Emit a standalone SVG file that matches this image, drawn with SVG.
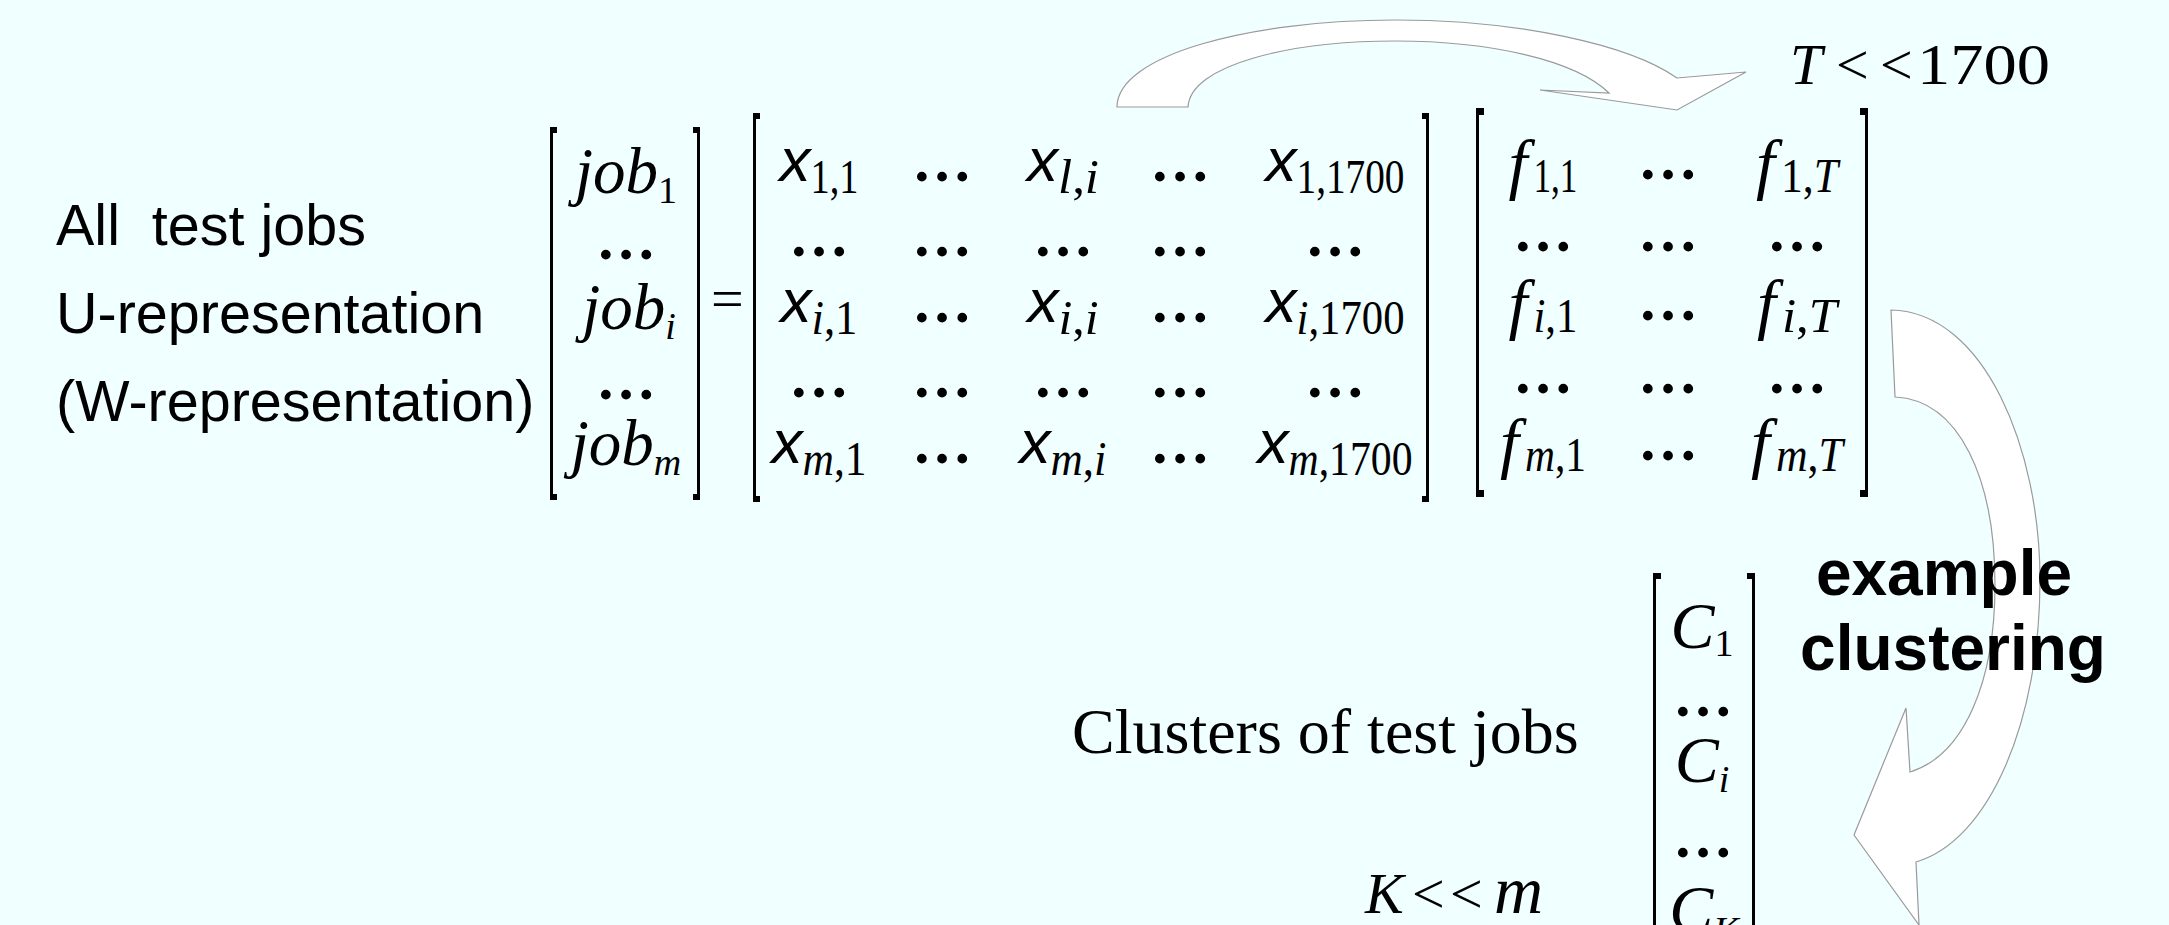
<svg xmlns="http://www.w3.org/2000/svg" width="2169" height="925" viewBox="0 0 2169 925">
<style>
.sans{font-family:"Liberation Sans",Arial,sans-serif}
.serif{font-family:"Liberation Serif","Times New Roman",serif}
.lab{font-family:"Liberation Sans",Arial,sans-serif;font-size:57.5px;fill:#000}
.m{font-family:"Liberation Serif","Times New Roman",serif;font-size:58px;fill:#000}
.it{font-style:italic}
.sub{font-size:38px;font-weight:normal}
.sb{font-size:48px;font-weight:normal}
.xv{font-family:"Liberation Sans",Arial,sans-serif;font-style:italic;font-size:62px}
.fv{font-style:italic;font-size:68px}
.d{font-weight:bold;font-size:60px}
.br{fill:#000}
.arrow{fill:#fff;stroke:#9a9a9a;stroke-width:1.2;stroke-linejoin:miter}
.bold{font-family:"Liberation Sans",Arial,sans-serif;font-weight:bold;font-size:64px;fill:#000}
</style>
<rect x="0" y="0" width="2169" height="925" fill="#f0ffff"/>

<g id="connectors">
  <path class="arrow" d="M1117,107 C1117,55 1250,20 1395,20 C1520,20 1630,45 1677,78 L1746,72 L1677,110 L1540,90 L1609,93 C1575,60 1490,41 1395,41 C1290,41 1190,65 1188,107 Z"/>
  <path class="arrow" d="M1891,310 C1985,312 2040,450 2040,580 C2040,720 1990,840 1916,862 L1919,925 L1854,835 L1906,708 L1910,772 C1965,755 1995,680 1995,585 C1995,480 1960,400 1895,397 Z"/>
</g>

<g id="labels">
  <text class="lab" x="56" y="245" xml:space="preserve">All  test jobs</text>
  <text class="lab" x="56" y="333">U-representation</text>
  <text class="lab" x="56" y="421">(W-representation)</text>
</g>

<g id="matrix-job">
  <rect class="br" x="550" y="127" width="3" height="373"/>
  <rect class="br" x="550" y="127" width="7" height="6"/>
  <rect class="br" x="550" y="494" width="7" height="6"/>
  <rect class="br" x="697" y="127" width="3" height="373"/>
  <rect class="br" x="693" y="127" width="7" height="6"/>
  <rect class="br" x="693" y="494" width="7" height="6"/>
  <g class="m" text-anchor="middle">
    <text x="626" y="193" font-size="65"><tspan class="it">job</tspan><tspan class="sub" dy="10">1</tspan></text>
    <text class="d" x="626" y="259">…</text>
    <text x="629" y="329" font-size="65"><tspan class="it">job</tspan><tspan class="sub it" dy="10">i</tspan></text>
    <text class="d" x="626" y="399">…</text>
    <text x="626" y="465" font-size="65"><tspan class="it">job</tspan><tspan class="sub it" dy="10">m</tspan></text>
  </g>
  <text class="m" x="711" y="318">=</text>
</g>

<g id="matrix-x">
  <rect class="br" x="753" y="113" width="3" height="389"/>
  <rect class="br" x="753" y="113" width="7" height="6"/>
  <rect class="br" x="753" y="496" width="7" height="6"/>
  <rect class="br" x="1426" y="113" width="3" height="389"/>
  <rect class="br" x="1422" y="113" width="7" height="6"/>
  <rect class="br" x="1422" y="496" width="7" height="6"/>
  <g class="m" text-anchor="middle">
    <text x="819" y="181"><tspan class="xv">x</tspan><tspan class="sb" dy="12" textLength="48" lengthAdjust="spacingAndGlyphs">1,1</tspan></text>
    <text class="d" x="942" y="181">…</text>
    <text x="1063" y="181"><tspan class="xv">x</tspan><tspan class="sb" dy="12" textLength="41" lengthAdjust="spacingAndGlyphs"><tspan class="it">l</tspan>,<tspan class="it">i</tspan></tspan></text>
    <text class="d" x="1180" y="181">…</text>
    <text x="1335" y="181"><tspan class="xv">x</tspan><tspan class="sb" dy="12" textLength="108" lengthAdjust="spacingAndGlyphs">1,1700</tspan></text>

    <text class="d" x="819" y="256">…</text>
    <text class="d" x="942" y="256">…</text>
    <text class="d" x="1063" y="256">…</text>
    <text class="d" x="1180" y="256">…</text>
    <text class="d" x="1335" y="256">…</text>

    <text x="819" y="322"><tspan class="xv">x</tspan><tspan class="sb" dy="12" textLength="46" lengthAdjust="spacingAndGlyphs"><tspan class="it">i</tspan>,1</tspan></text>
    <text class="d" x="942" y="322">…</text>
    <text x="1063" y="322"><tspan class="xv">x</tspan><tspan class="sb" dy="12" textLength="40" lengthAdjust="spacingAndGlyphs"><tspan class="it">i</tspan>,<tspan class="it">i</tspan></tspan></text>
    <text class="d" x="1180" y="322">…</text>
    <text x="1335" y="322"><tspan class="xv">x</tspan><tspan class="sb" dy="12" textLength="108" lengthAdjust="spacingAndGlyphs"><tspan class="it">i</tspan>,1700</tspan></text>

    <text class="d" x="819" y="397">…</text>
    <text class="d" x="942" y="397">…</text>
    <text class="d" x="1063" y="397">…</text>
    <text class="d" x="1180" y="397">…</text>
    <text class="d" x="1335" y="397">…</text>

    <text x="819" y="463"><tspan class="xv">x</tspan><tspan class="sb" dy="12" textLength="64" lengthAdjust="spacingAndGlyphs"><tspan class="it">m</tspan>,1</tspan></text>
    <text class="d" x="942" y="463">…</text>
    <text x="1063" y="463"><tspan class="xv">x</tspan><tspan class="sb" dy="12" textLength="56" lengthAdjust="spacingAndGlyphs"><tspan class="it">m</tspan>,<tspan class="it">i</tspan></tspan></text>
    <text class="d" x="1180" y="463">…</text>
    <text x="1335" y="463"><tspan class="xv">x</tspan><tspan class="sb" dy="12" textLength="124" lengthAdjust="spacingAndGlyphs"><tspan class="it">m</tspan>,1700</tspan></text>
  </g>
</g>

<g id="matrix-f">
  <rect class="br" x="1476" y="108" width="3" height="389"/>
  <rect class="br" x="1476" y="108" width="8" height="7"/>
  <rect class="br" x="1476" y="490" width="8" height="7"/>
  <rect class="br" x="1865" y="108" width="3" height="389"/>
  <rect class="br" x="1860" y="108" width="8" height="7"/>
  <rect class="br" x="1860" y="490" width="8" height="7"/>
  <g class="m" text-anchor="middle">
    <text x="1543" y="187"><tspan class="fv">f</tspan><tspan class="sb" dx="6" dy="5" textLength="44" lengthAdjust="spacingAndGlyphs">1,1</tspan></text>
    <text class="d" x="1668" y="179">…</text>
    <text x="1797" y="187"><tspan class="fv">f</tspan><tspan class="sb" dx="6" dy="5" textLength="57" lengthAdjust="spacingAndGlyphs">1,<tspan class="it">T</tspan></tspan></text>

    <text class="d" x="1543" y="251">…</text>
    <text class="d" x="1668" y="251">…</text>
    <text class="d" x="1797" y="251">…</text>

    <text x="1543" y="327"><tspan class="fv">f</tspan><tspan class="sb" dx="6" dy="5" textLength="44" lengthAdjust="spacingAndGlyphs"><tspan class="it">i</tspan>,1</tspan></text>
    <text class="d" x="1668" y="320">…</text>
    <text x="1797" y="327"><tspan class="fv">f</tspan><tspan class="sb" dx="6" dy="5" textLength="55" lengthAdjust="spacingAndGlyphs"><tspan class="it">i</tspan>,<tspan class="it">T</tspan></tspan></text>

    <text class="d" x="1543" y="393">…</text>
    <text class="d" x="1668" y="393">…</text>
    <text class="d" x="1797" y="393">…</text>

    <text x="1543" y="466"><tspan class="fv">f</tspan><tspan class="sb" dx="6" dy="5" textLength="61" lengthAdjust="spacingAndGlyphs"><tspan class="it">m</tspan>,1</tspan></text>
    <text class="d" x="1668" y="460">…</text>
    <text x="1797" y="466"><tspan class="fv">f</tspan><tspan class="sb" dx="6" dy="5" textLength="67" lengthAdjust="spacingAndGlyphs"><tspan class="it">m</tspan>,<tspan class="it">T</tspan></tspan></text>
  </g>
</g>

<g id="matrix-c">
  <rect class="br" x="1653" y="573" width="3" height="367"/>
  <rect class="br" x="1653" y="573" width="8" height="6"/>
  <rect class="br" x="1752" y="573" width="3" height="367"/>
  <rect class="br" x="1747" y="573" width="8" height="6"/>
  <g class="m" text-anchor="middle">
    <text x="1702" y="648" font-size="66"><tspan class="it">C</tspan><tspan font-size="38" dy="8">1</tspan></text>
    <text class="d" x="1703" y="716">…</text>
    <text x="1702" y="782" font-size="66"><tspan class="it">C</tspan><tspan class="it" font-size="38" dy="10">i</tspan></text>
    <text class="d" x="1703" y="857">…</text>
    <text x="1704" y="931" font-size="66"><tspan class="it">C</tspan><tspan class="it" font-size="38" dy="12">K</tspan></text>
  </g>
</g>

<g id="annotations">
  <text class="m" y="84" font-size="57"><tspan class="it" x="1790">T</tspan><tspan x="1836">&lt;</tspan><tspan x="1880">&lt;</tspan><tspan x="1917" textLength="133" lengthAdjust="spacingAndGlyphs">1700</tspan></text>
  <text class="serif" x="1072" y="753" font-size="64">Clusters of test jobs</text>
  <text class="m" y="913" font-size="62"><tspan class="it" x="1365">K</tspan><tspan x="1412">&lt;</tspan><tspan x="1450">&lt;</tspan><tspan class="it" x="1494" font-size="68">m</tspan></text>
  <text class="bold" x="1944" y="595" text-anchor="middle">example</text>
  <text class="bold" x="1953" y="670" text-anchor="middle">clustering</text>
</g>
</svg>
